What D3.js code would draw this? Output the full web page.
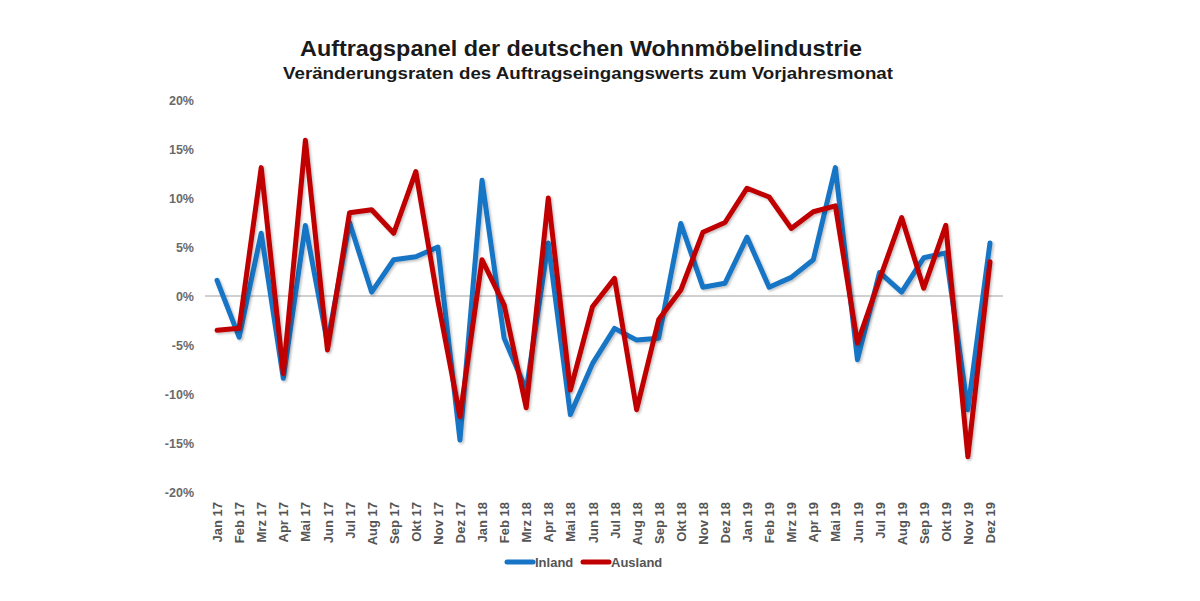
<!DOCTYPE html>
<html>
<head>
<meta charset="utf-8">
<script src="https://cdn.jsdelivr.net/npm/d3@7"></script>
<style>
  body { margin: 0; background: #fff; }
  svg { font-family: "Liberation Sans", Arial, sans-serif; }
</style>
</head>
<body>
<div id="chart"></div>
<script>
var months = ["Jan 17","Feb 17","Mrz 17","Apr 17","Mai 17","Jun 17","Jul 17","Aug 17","Sep 17","Okt 17","Nov 17","Dez 17",
              "Jan 18","Feb 18","Mrz 18","Apr 18","Mai 18","Jun 18","Jul 18","Aug 18","Sep 18","Okt 18","Nov 18","Dez 18",
              "Jan 19","Feb 19","Mrz 19","Apr 19","Mai 19","Jun 19","Jul 19","Aug 19","Sep 19","Okt 19","Nov 19","Dez 19"];

var inland = [1.6, -4.2, 6.4, -8.4, 7.2, -4.8, 7.5, 0.4, 3.7, 4.0, 5.0, -14.7,
              11.8, -4.3, -9.6, 5.4, -12.1, -6.9, -3.3, -4.5, -4.3, 7.4, 0.9, 1.3,
              6.0, 0.9, 1.9, 3.7, 13.1, -6.5, 2.4, 0.4, 3.9, 4.4, -11.6, 5.4];

var ausland = [-3.5, -3.3, 13.1, -7.9, 15.9, -5.5, 8.5, 8.8, 6.4, 12.7, -0.5, -12.3,
               3.7, -0.9, -11.4, 10.0, -9.6, -1.1, 1.8, -11.6, -2.4, 0.6, 6.5, 7.5,
               11.0, 10.1, 6.9, 8.6, 9.2, -4.8, 1.7, 8.0, 0.8, 7.2, -16.4, 3.5];

var yTicks = [-20, -15, -10, -5, 0, 5, 10, 15, 20];

var titleText = "Auftragspanel der deutschen Wohnmöbelindustrie";
var subtitleText = "Veränderungsraten des Auftragseingangswerts zum Vorjahresmonat";

var width = 1200, height = 601;

var svg = d3.select("#chart").append("svg")
    .attr("width", width)
    .attr("height", height);

// soft shadow like the excel lines
var defs = svg.append("defs");
var f = defs.append("filter").attr("id", "shadow")
    .attr("x", "-5%").attr("y", "-5%").attr("width", "110%").attr("height", "110%");
f.append("feDropShadow")
    .attr("dx", 1.5).attr("dy", 1.5).attr("stdDeviation", 1.2)
    .attr("flood-color", "#000").attr("flood-opacity", 0.25);

var x = d3.scalePoint()
    .domain(months)
    .range([206, 1001])
    .padding(0.5);

var y = d3.scaleLinear()
    .domain([-20, 20])
    .range([492, 100]);

// titles
svg.append("text")
    .attr("x", 581).attr("y", 56)
    .attr("text-anchor", "middle")
    .attr("textLength", 562)
    .attr("lengthAdjust", "spacingAndGlyphs")
    .style("font-size", "22px")
    .style("font-weight", "bold")
    .style("fill", "#1a1a1a")
    .text(titleText);

svg.append("text")
    .attr("x", 588).attr("y", 79)
    .attr("text-anchor", "middle")
    .attr("textLength", 610)
    .attr("lengthAdjust", "spacingAndGlyphs")
    .style("font-size", "17px")
    .style("font-weight", "bold")
    .style("fill", "#1a1a1a")
    .text(subtitleText);

// y axis labels (no axis line, no grid)
var yAxis = d3.axisLeft(y)
    .tickValues(yTicks)
    .tickSize(0)
    .tickPadding(0)
    .tickFormat(function(d) { return d + "%"; });

var gy = svg.append("g")
    .attr("transform", "translate(194,0)")
    .call(yAxis);
gy.select(".domain").remove();
gy.selectAll("text")
    .style("font-size", "12.5px")
    .style("font-weight", "bold")
    .style("font-family", "\"Liberation Sans\", Arial, sans-serif")
    .style("fill", "#6a6a6a");

// zero line
svg.append("line")
    .attr("x1", 205).attr("x2", 1003)
    .attr("y1", y(0)).attr("y2", y(0))
    .style("stroke", "#c0c0c0")
    .style("stroke-width", "1.5px");

// x axis labels, rotated, placed at the bottom
var xAxis = d3.axisBottom(x).tickSize(0).tickPadding(0);
var gx = svg.append("g")
    .attr("transform", "translate(0,502)")
    .call(xAxis);
gx.select(".domain").remove();
gx.selectAll("text")
    .attr("transform", "rotate(-90)")
    .attr("text-anchor", "end")
    .attr("x", 0)
    .attr("y", 0)
    .attr("dy", "0.35em")
    .style("font-size", "13px")
    .style("font-weight", "bold")
    .style("font-family", "\"Liberation Sans\", Arial, sans-serif")
    .style("fill", "#555");

var line = d3.line()
    .x(function(d, i) { return x(months[i]); })
    .y(function(d) { return y(d); });

var series = [
    { name: "Inland", values: inland, color: "#1874c4" },
    { name: "Ausland", values: ausland, color: "#c00000" }
];

svg.selectAll(".series")
    .data(series)
    .enter().append("path")
    .attr("class", "series")
    .attr("d", function(d) { return line(d.values); })
    .attr("filter", "url(#shadow)")
    .style("fill", "none")
    .style("stroke", function(d) { return d.color; })
    .style("stroke-width", "5px")
    .style("stroke-linejoin", "round")
    .style("stroke-linecap", "round");

// legend
var legend = svg.append("g").attr("class", "legend");
var lx = [507, 583];
series.forEach(function(s, i) {
    legend.append("line")
        .attr("x1", lx[i]).attr("x2", lx[i] + 26)
        .attr("y1", 562).attr("y2", 562)
        .style("stroke", s.color)
        .style("stroke-width", "5px")
        .style("stroke-linecap", "round");
    legend.append("text")
        .attr("x", lx[i] + 28).attr("y", 567)
        .style("font-size", "13px")
        .style("font-weight", "bold")
        .style("fill", "#555")
        .text(s.name);
});
</script>
</body>
</html>
